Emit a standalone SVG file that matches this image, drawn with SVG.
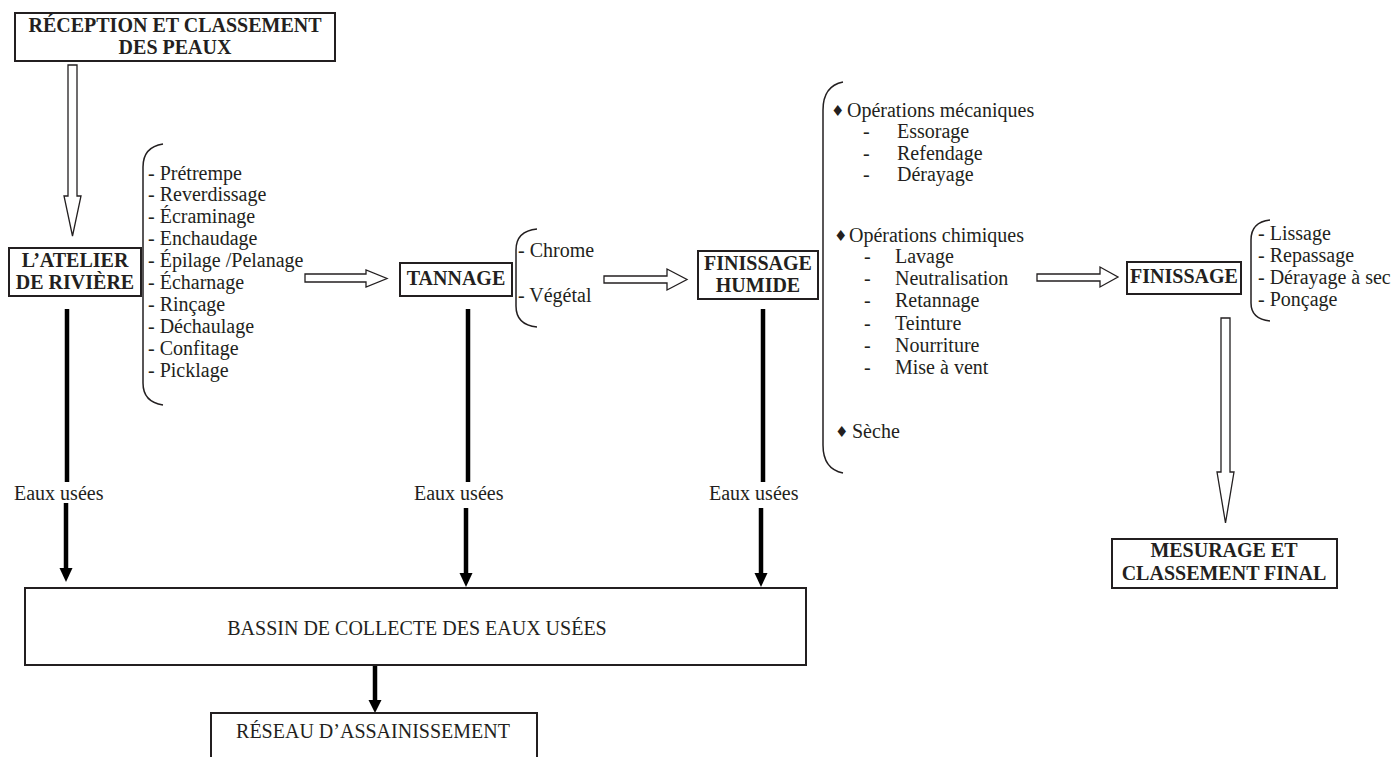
<svg xmlns="http://www.w3.org/2000/svg" width="1398" height="757" viewBox="0 0 1398 757">
<style>
text{font-family:"Liberation Serif","Times New Roman",serif;font-size:20px;fill:#231f20}
.b{font-weight:bold}
.m{text-anchor:middle}
.box{fill:#fff;stroke:#231f20;stroke-width:2}
.hol{fill:#fff;stroke:#231f20;stroke-width:1.3;stroke-linejoin:miter}
.br{fill:none;stroke:#231f20;stroke-width:1.5}
.thick{stroke:#000;stroke-width:4.5;fill:none}
.head{fill:#000}
.dia{font-family:"DejaVu Sans",sans-serif;font-size:15px}
</style>
<rect width="1398" height="757" fill="#fff"/>

<g id="connectors">
  <path class="hol" d="M68,65 L77,65 L77,196 L81,196 L72.5,236 L64,196 L68,196 Z"/>
  <path class="hol" d="M305,274 L366,274 L366,270 L387,278.5 L366,287 L366,282 L305,282 Z"/>
  <path class="hol" d="M604,276 L667,276 L667,269 L687,279.5 L667,290 L667,283 L604,283 Z"/>
  <path class="hol" d="M1037,274 L1100,274 L1100,267 L1118,277 L1100,287 L1100,281 L1037,281 Z"/>
  <path class="hol" d="M1221,318 L1230,318 L1230,472 L1234,472 L1225.5,523 L1217,472 L1221,472 Z"/>

  <line class="thick" x1="67" y1="309" x2="67" y2="482"/>
  <line class="thick" x1="66" y1="503" x2="66" y2="569"/>
  <polygon class="head" points="59.5,568 72.5,568 66,582"/>

  <line class="thick" x1="468" y1="309" x2="468" y2="482"/>
  <line class="thick" x1="466" y1="508" x2="466" y2="574"/>
  <polygon class="head" points="459.5,573 472.5,573 466,587"/>

  <line class="thick" x1="763" y1="309" x2="763" y2="482"/>
  <line class="thick" x1="761" y1="508" x2="761" y2="574"/>
  <polygon class="head" points="754.5,573 767.5,573 761,587"/>

  <line class="thick" x1="375" y1="665" x2="375" y2="701"/>
  <polygon class="head" points="368.5,700 381.5,700 375,713"/>

  <text x="14" y="500">Eaux usées</text>
  <text x="414" y="500">Eaux usées</text>
  <text x="709" y="500">Eaux usées</text>
</g>

<g id="reception">
  <rect class="box" x="15" y="13" width="320" height="48"/>
  <text class="b m" x="175" y="32">RÉCEPTION ET CLASSEMENT</text>
  <text class="b m" x="175" y="54">DES PEAUX</text>
</g>

<g id="atelier">
  <rect class="box" x="9" y="248" width="132" height="48"/>
  <text class="b m" x="75" y="267">L’ATELIER</text>
  <text class="b m" x="75" y="289">DE RIVIÈRE</text>
</g>

<g id="atelier-list">
  <path class="br" d="M163,144 Q143,147 143,167 L143,383 Q143,402 163,405"/>
  <text x="148" y="180">- Prétrempe</text>
  <text x="148" y="201">- Reverdissage</text>
  <text x="148" y="223">- Écraminage</text>
  <text x="148" y="245">- Enchaudage</text>
  <text x="148" y="267">- Épilage /Pelanage</text>
  <text x="148" y="289">- Écharnage</text>
  <text x="148" y="311">- Rinçage</text>
  <text x="148" y="333">- Déchaulage</text>
  <text x="148" y="355">- Confitage</text>
  <text x="148" y="377">- Picklage</text>
</g>

<g id="tannage">
  <rect class="box" x="400" y="263" width="112" height="33"/>
  <text class="b m" x="456" y="285">TANNAGE</text>
</g>

<g id="tannage-list">
  <path class="br" d="M537,229 Q516,231 516,250 L516,306 Q516,325 537,327"/>
  <text x="518" y="257">- Chrome</text>
  <text x="518" y="302">- Végétal</text>
</g>

<g id="finissage-humide">
  <rect class="box" x="698" y="251" width="120" height="48"/>
  <text class="b m" x="758" y="270">FINISSAGE</text>
  <text class="b m" x="758" y="292">HUMIDE</text>
</g>

<g id="finissage-humide-list">
  <path class="br" d="M843,82 Q823,86 823,110 L823,445 Q823,469 843,473"/>
  <text class="dia" x="831" y="116">♦</text>
  <text x="847" y="117">Opérations mécaniques</text>
  <text x="863" y="138">-</text><text x="897" y="138">Essorage</text>
  <text x="863" y="160">-</text><text x="897" y="160">Refendage</text>
  <text x="863" y="181">-</text><text x="897" y="181">Dérayage</text>
  <text class="dia" x="834" y="241">♦</text>
  <text x="849" y="242">Opérations chimiques</text>
  <text x="864" y="263">-</text><text x="895" y="263">Lavage</text>
  <text x="864" y="285">-</text><text x="895" y="285">Neutralisation</text>
  <text x="864" y="307">-</text><text x="895" y="307">Retannage</text>
  <text x="864" y="330">-</text><text x="895" y="330">Teinture</text>
  <text x="864" y="352">-</text><text x="895" y="352">Nourriture</text>
  <text x="864" y="374">-</text><text x="895" y="374">Mise à vent</text>
  <text class="dia" x="835" y="437">♦</text>
  <text x="852" y="438">Sèche</text>
</g>

<g id="finissage">
  <rect class="box" x="1127" y="262" width="114" height="32"/>
  <text class="b m" x="1184" y="283">FINISSAGE</text>
</g>

<g id="finissage-list">
  <path class="br" d="M1270,220 Q1251,222 1251,240 L1251,303 Q1251,319 1270,321"/>
  <text x="1258" y="240">- Lissage</text>
  <text x="1258" y="262">- Repassage</text>
  <text x="1258" y="284">- Dérayage à sec</text>
  <text x="1258" y="306">- Ponçage</text>
</g>

<g id="mesurage">
  <rect class="box" x="1112" y="539" width="225" height="49"/>
  <text class="b m" x="1224" y="557">MESURAGE ET</text>
  <text class="b m" x="1224" y="580">CLASSEMENT FINAL</text>
</g>

<g id="bassin">
  <rect class="box" x="25" y="588" width="781" height="77"/>
  <text class="m" x="417" y="635">BASSIN DE COLLECTE DES EAUX USÉES</text>
</g>

<g id="reseau">
  <rect class="box" x="211" y="713" width="326" height="60"/>
  <text class="m" x="373" y="738">RÉSEAU D’ASSAINISSEMENT</text>
</g>
</svg>
